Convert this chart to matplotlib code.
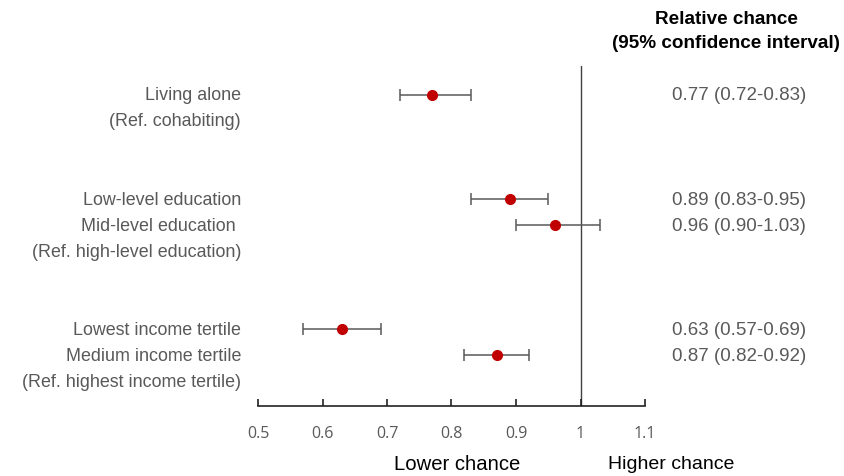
import matplotlib.pyplot as plt

labels = ['Living alone', '(Ref. cohabiting)',
          'Low-level education', 'Mid-level education ', '(Ref. high-level education)',
          'Lowest income tertile', 'Medium income tertile', '(Ref. highest income tertile)']
label_rows = [0, 1, 4, 5, 6, 9, 10, 11]

est_rows = [0, 4, 5, 9, 10]
est = [0.77, 0.89, 0.96, 0.63, 0.87]
lo = [0.72, 0.83, 0.90, 0.57, 0.82]
hi = [0.83, 0.95, 1.03, 0.69, 0.92]
xticks = [0.5, 0.6, 0.7, 0.8, 0.9, 1.0, 1.1]
xticklabels = ['0.5', '0.6', '0.7', '0.8', '0.9', '1', '1.1']

plt.rcParams['font.family'] = ['Liberation Sans', 'DejaVu Sans']
grey = '#595959'
red = '#C00000'

fig = plt.figure(figsize=(8.44, 4.77), dpi=100)
ax = fig.add_axes([258/844, 1 - 407/477, (645-258)/844, (407-67)/477])

# error bars around each estimate
err = [[e - l for e, l in zip(est, lo)], [h - e for e, h in zip(est, hi)]]
ax.errorbar(est, est_rows, xerr=err, fmt='o', color=red, markersize=7,
            ecolor=grey, elinewidth=1.1, capsize=4, capthick=1.1, zorder=3)
ax.axvline(1.0, color='#404040', lw=1.0, zorder=1)

ax.set_xlim(0.5, 1.1)
ax.set_ylim(11.96, -1.115)
ax.set_yticks([])
ax.set_xticks(xticks)
ax.set_xticklabels(xticklabels, color=grey, fontsize=11.5, family='Open Sans')
ax.tick_params(axis='x', direction='in', length=5, width=1.2, color='#222222', pad=14)
for s in ['top', 'right', 'left']:
    ax.spines[s].set_visible(False)
ax.spines['bottom'].set_linewidth(1.2)
ax.spines['bottom'].set_color('#222222')

ytrans = ax.get_yaxis_transform()
for lab, r in zip(labels, label_rows):
    ax.text(-0.044, r, lab, transform=ytrans, ha='right', va='center',
            fontsize=12.9, color=grey)

# right column: estimate and CI, placed in figure x coords
for r, e, l, h in zip(est_rows, est, lo, hi):
    yfig = fig.transFigure.inverted().transform(ax.transData.transform((1.0, r)))[1]
    fig.text(739/844, yfig, '%.2f (%.2f-%.2f)' % (e, l, h), ha='center', va='center',
             fontsize=13.5, color=grey)

fig.text(726/844, 1 - 19/477, 'Relative chance', ha='center', va='center',
         fontsize=13.6, fontweight='bold')
fig.text(726/844, 1 - 43/477, '(95% confidence interval)', ha='center', va='center',
         fontsize=13.6, fontweight='bold')
fig.text(457/844, 1 - 465/477, 'Lower chance', ha='center', va='center', fontsize=14.6)
fig.text(671/844, 1 - 465/477, 'Higher chance', ha='center', va='center', fontsize=14)

fig.savefig('out.png', dpi=100)
